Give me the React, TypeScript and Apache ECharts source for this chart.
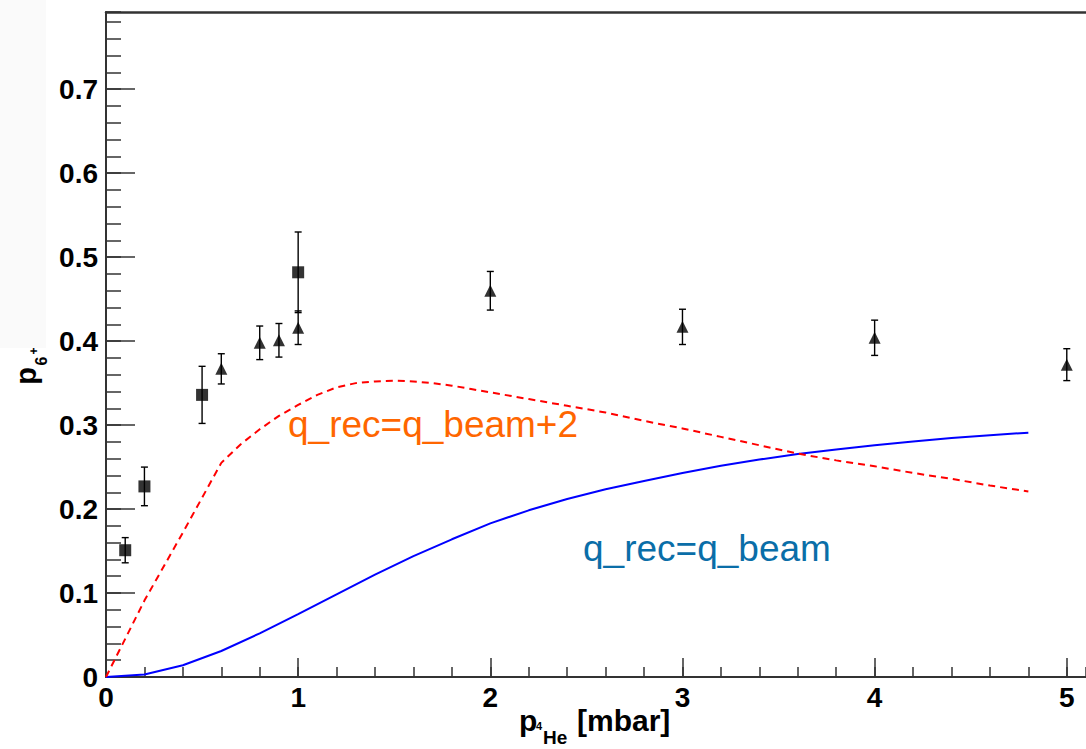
import React, { useEffect, useRef } from "react";
import * as echarts from "echarts";

// Measured points with errors (square markers)
const squareX = [0.1, 0.2, 0.5, 1.0];
const squareY = [0.151, 0.227, 0.336, 0.482];
const squareErr = [0.015, 0.023, 0.034, 0.048];

// Measured points with errors (triangle markers)
const triangleX = [0.6, 0.8, 0.9, 1.0, 2.0, 3.0, 4.0, 5.0];
const triangleY = [0.367, 0.398, 0.401, 0.416, 0.46, 0.417, 0.404, 0.372];
const triangleErr = [0.018, 0.02, 0.02, 0.02, 0.023, 0.021, 0.021, 0.019];

// Model curve q_rec = q_beam + 2 (red dashed)
const plus2X = [0, 0.2, 0.4, 0.6, 0.7, 0.8, 0.9, 1.0, 1.1, 1.2, 1.3, 1.4, 1.5, 1.6, 1.7, 1.8, 1.9, 2.0, 2.2, 2.4, 2.6, 2.8, 3.0, 3.2, 3.4, 3.6, 3.8, 4.0, 4.2, 4.4, 4.6, 4.8];
const plus2Y = [0, 0.091, 0.172, 0.255, 0.277, 0.295, 0.311, 0.324, 0.336, 0.345, 0.35, 0.352, 0.353, 0.352, 0.35, 0.347, 0.343, 0.339, 0.331, 0.323, 0.315, 0.305, 0.296, 0.286, 0.276, 0.266, 0.258, 0.251, 0.243, 0.236, 0.228, 0.221];

// Model curve q_rec = q_beam (blue solid)
const sameX = [0, 0.2, 0.4, 0.6, 0.8, 1.0, 1.2, 1.4, 1.6, 1.8, 2.0, 2.2, 2.4, 2.6, 2.8, 3.0, 3.2, 3.4, 3.6, 3.8, 4.0, 4.2, 4.4, 4.6, 4.8];
const sameY = [0, 0.003, 0.014, 0.031, 0.052, 0.075, 0.0985, 0.122, 0.144, 0.164, 0.183, 0.1985, 0.212, 0.2235, 0.2335, 0.243, 0.2515, 0.259, 0.2655, 0.271, 0.276, 0.2805, 0.2845, 0.288, 0.291];

const labelPlus2 = "q_rec=q_beam+2";
const labelSame = "q_rec=q_beam";

const X_MIN = 0, X_MAX = 5.1, X_MAJOR = 1, X_MINOR = 0.2;
const Y_MIN = 0, Y_MAX = 0.792, Y_MAJOR = 0.1, Y_MINOR = 0.02;

const FONT = "'Liberation Sans', Arial, Helvetica, sans-serif";
const AXIS_COLOR = "#333";

export default function App() {
  const ref = useRef<HTMLDivElement>(null);

  useEffect(() => {
    if (!ref.current) return;
    const chart = echarts.init(ref.current, undefined, { renderer: "svg" });

    const isMultiple = (v: number, step: number) => Math.abs(v / step - Math.round(v / step)) < 1e-6;

    const errRender = (params: any, api: any) => {
      const x = api.value(0), y = api.value(1), e = api.value(2);
      const top = api.coord([x, y + e]);
      const bot = api.coord([x, y - e]);
      const cw = 3.5;
      const st = { stroke: "#000", lineWidth: 1.4 };
      return {
        type: "group",
        children: [
          { type: "line", shape: { x1: top[0], y1: top[1], x2: bot[0], y2: bot[1] }, style: st },
          { type: "line", shape: { x1: top[0] - cw, y1: top[1], x2: top[0] + cw, y2: top[1] }, style: st },
          { type: "line", shape: { x1: bot[0] - cw, y1: bot[1], x2: bot[0] + cw, y2: bot[1] }, style: st },
        ],
      };
    };

    const baseX = {
      type: "value",
      min: X_MIN,
      max: X_MAX,
      gridIndex: 0,
      splitLine: { show: false },
    };
    const baseY = {
      type: "value",
      min: Y_MIN,
      max: Y_MAX,
      gridIndex: 0,
      splitLine: { show: false },
    };

    const option: any = {
      animation: false,
      backgroundColor: "#ffffff",
      grid: { left: 106, top: 12, width: 982, height: 665 },
      xAxis: [
        {
          ...baseX,
          interval: X_MAJOR,
          position: "bottom",
          axisLine: { show: true, onZero: false, lineStyle: { color: AXIS_COLOR, width: 2 } },
          axisTick: { show: true, inside: true, length: 19, lineStyle: { color: AXIS_COLOR, width: 1.5 } },
          axisLabel: {
            show: true,
            margin: 6,
            fontSize: 28,
            fontWeight: "bold",
            fontFamily: FONT,
            color: "#000",
            showMaxLabel: false,
            formatter: (v: number) => (isMultiple(v, X_MAJOR) ? String(Math.round(v)) : ""),
          },
        },
        {
          ...baseX,
          interval: X_MINOR,
          position: "bottom",
          axisLine: { show: false, onZero: false },
          axisTick: { show: true, inside: true, length: 10, lineStyle: { color: AXIS_COLOR, width: 1.5 } },
          axisLabel: { show: false },
        },
        {
          ...baseX,
          interval: X_MAJOR,
          position: "top",
          axisLine: { show: true, onZero: false, lineStyle: { color: AXIS_COLOR, width: 2.5 } },
          axisTick: { show: false },
          axisLabel: { show: false },
        },
      ],
      yAxis: [
        {
          ...baseY,
          interval: Y_MAJOR,
          position: "left",
          axisLine: { show: true, onZero: false, lineStyle: { color: AXIS_COLOR, width: 2 } },
          axisTick: { show: true, inside: true, length: 29, lineStyle: { color: AXIS_COLOR, width: 1.5 } },
          axisLabel: {
            show: true,
            margin: 8,
            fontSize: 28,
            fontWeight: "bold",
            fontFamily: FONT,
            color: "#000",
            showMaxLabel: false,
            formatter: (v: number) => (isMultiple(v, Y_MAJOR) ? (Math.round(v * 10) === 0 ? "0" : (Math.round(v * 10) / 10).toFixed(1)) : ""),
          },
        },
        {
          ...baseY,
          interval: Y_MINOR,
          position: "left",
          axisLine: { show: false, onZero: false },
          axisTick: { show: true, inside: true, length: 15, lineStyle: { color: AXIS_COLOR, width: 1.5 } },
          axisLabel: { show: false },
        },
      ],
      series: [
        {
          name: labelSame,
          type: "line",
          xAxisIndex: 0,
          yAxisIndex: 0,
          data: sameX.map((x, i) => [x, sameY[i]]),
          showSymbol: false,
          symbol: "none",
          lineStyle: { color: "#0000ff", width: 2 },
          z: 2,
        },
        {
          name: labelPlus2,
          type: "line",
          xAxisIndex: 0,
          yAxisIndex: 0,
          data: plus2X.map((x, i) => [x, plus2Y[i]]),
          showSymbol: false,
          symbol: "none",
          lineStyle: { color: "#ff0000", width: 2, type: [7, 5] },
          z: 2,
        },
        {
          type: "custom",
          xAxisIndex: 0,
          yAxisIndex: 0,
          renderItem: errRender,
          encode: { x: 0, y: 1 },
          data: squareX.map((x, i) => [x, squareY[i], squareErr[i]]),
          z: 3,
        },
        {
          type: "custom",
          xAxisIndex: 0,
          yAxisIndex: 0,
          renderItem: errRender,
          encode: { x: 0, y: 1 },
          data: triangleX.map((x, i) => [x, triangleY[i], triangleErr[i]]),
          z: 3,
        },
        {
          type: "scatter",
          xAxisIndex: 0,
          yAxisIndex: 0,
          symbol: "rect",
          symbolSize: 12,
          itemStyle: { color: "#000" },
          data: squareX.map((x, i) => [x, squareY[i]]),
          z: 4,
        },
        {
          type: "scatter",
          xAxisIndex: 0,
          yAxisIndex: 0,
          symbol: "triangle",
          symbolSize: 12,
          itemStyle: { color: "#000" },
          data: triangleX.map((x, i) => [x, triangleY[i]]),
          z: 4,
        },
      ],
      graphic: [
        { type: "rect", z: -10, shape: { x: 0, y: 0, width: 46, height: 348 }, style: { fill: "#fafafa" } },
        // y axis title: p_{6+}
        { type: "text", x: 26, y: 376, rotation: Math.PI / 2, style: { text: "p", fontSize: 29, fontWeight: "bold", fontFamily: FONT, fill: "#000", align: "center", verticalAlign: "middle" } },
        { type: "text", x: 41, y: 361, rotation: Math.PI / 2, style: { text: "6", fontSize: 16, fontWeight: "bold", fontFamily: FONT, fill: "#000", align: "center", verticalAlign: "middle" } },
        { type: "text", x: 34, y: 351, rotation: Math.PI / 2, style: { text: "+", fontSize: 12, fontWeight: "bold", fontFamily: FONT, fill: "#000", align: "center", verticalAlign: "middle" } },
        // x axis title: p_{4He} [mbar]
        { type: "text", x: 519, y: 720, style: { text: "p", fontSize: 30, fontWeight: "bold", fontFamily: FONT, fill: "#000", align: "left", verticalAlign: "middle" } },
        { type: "text", x: 536, y: 726, style: { text: "4", fontSize: 11, fontWeight: "bold", fontFamily: FONT, fill: "#000", align: "left", verticalAlign: "middle" } },
        { type: "text", x: 543, y: 737, style: { text: "He", fontSize: 19, fontWeight: "bold", fontFamily: FONT, fill: "#000", align: "left", verticalAlign: "middle" } },
        { type: "text", x: 577, y: 720, style: { text: "[mbar]", fontSize: 30, fontWeight: "bold", fontFamily: FONT, fill: "#000", align: "left", verticalAlign: "middle" } },
        // curve labels
        { type: "text", x: 288, y: 424, style: { text: labelPlus2, fontSize: 37, fontFamily: FONT, fill: "#ff6600", align: "left", verticalAlign: "middle" } },
        { type: "text", x: 583, y: 548, style: { text: labelSame, fontSize: 37, fontFamily: FONT, fill: "#0a6ea8", align: "left", verticalAlign: "middle" } },
      ],
    };

    chart.setOption(option);
    return () => chart.dispose();
  }, []);

  return (
    <div
      ref={ref}
      style={{ position: "absolute", left: 0, top: 0, width: 1086, height: 749, background: "#fff" }}
    />
  );
}
